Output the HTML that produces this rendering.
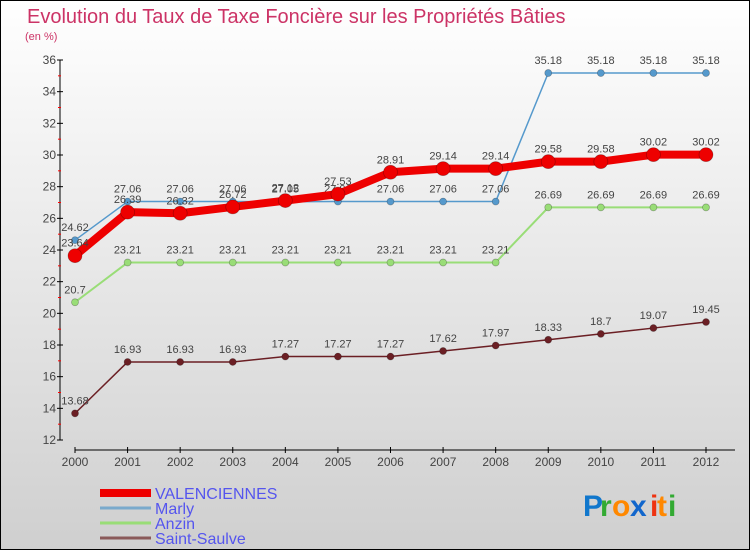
<!DOCTYPE html>
<html><head><meta charset="utf-8"><style>
body{margin:0}
#c{width:750px;height:550px;position:relative;background:linear-gradient(#ffffff,#cfcfcf);font-family:"Liberation Sans",sans-serif;overflow:hidden}
</style></head><body>
<div id="c">
<svg id="s" width="750" height="550" style="position:absolute;left:0;top:0"></svg>
</div>
<script>
const years=["2000","2001","2002","2003","2004","2005","2006","2007","2008","2009","2010","2011","2012"];
const valenciennes=[23.64,26.39,26.32,26.72,27.12,27.53,28.91,29.14,29.14,29.58,29.58,30.02,30.02];
const marly=[24.62,27.06,27.06,27.06,27.05,27.06,27.06,27.06,27.06,35.18,35.18,35.18,35.18];
const anzin=[20.7,23.21,23.21,23.21,23.21,23.21,23.21,23.21,23.21,26.69,26.69,26.69,26.69];
const saintSaulve=[13.68,16.93,16.93,16.93,17.27,17.27,17.27,17.62,17.97,18.33,18.7,19.07,19.45];
const yTicks=[12,14,16,18,20,22,24,26,28,30,32,34,36];
const NS="http://www.w3.org/2000/svg";
const svg=document.getElementById('s');
const x=i=>75+i*(706-75)/12;
const y=v=>440-(v-12)*(380/24);
function el(t,a,txt){const e=document.createElementNS(NS,t);for(const k in a)e.setAttribute(k,a[k]);if(txt!==undefined)e.textContent=txt;svg.appendChild(e);return e;}
let e;
e=el('rect',{x:0.5,y:0.5,width:749,height:549,fill:'none',stroke:'#000'});


e=el('text',{x:27,y:23,'font-size':20,fill:'#cc3366'},'Evolution du Taux de Taxe Foncière sur les Propriétés Bâties');


e=el('text',{x:25,y:40,'font-size':11,fill:'#cc3366'},'(en %)');


e=el('line',{x1:60,y1:60,x2:60,y2:440,stroke:'#000','stroke-width':1});


yTicks.forEach(v=>{
  e=el('line',{x1:57,y1:y(v),x2:63,y2:y(v),stroke:'#000'});
  
  
  if(v<36){e=el('line',{x1:58,y1:y(v+1),x2:61,y2:y(v+1),stroke:'#f00'});
  
  }
  e=el('text',{x:56,y:y(v)+4,'font-size':12,fill:'#444','text-anchor':'end'},String(v));
  
  
});
e=el('line',{x1:75,y1:450,x2:735,y2:450,stroke:'#000'});


years.forEach((yr,i)=>{
  e=el('line',{x1:x(i),y1:447,x2:x(i),y2:453,stroke:'#000'});
  
  
  e=el('text',{x:x(i),y:466,'font-size':12,fill:'#444','text-anchor':'middle'},yr);
  
  
});
function series(data,color,w,r,name){
  e=el('polyline',{points:data.map((v,i)=>x(i)+','+y(v)).join(' '),fill:'none',stroke:color,'stroke-width':w,'stroke-linejoin':'round'});
  
  
  data.forEach((v,i)=>{
    e=el('circle',{cx:x(i),cy:y(v),r:r,fill:color,stroke:'rgba(0,0,0,0.3)','stroke-width':0.7});
    
    
    e=el('text',{x:x(i),y:y(v)-9,'font-size':11,fill:'#444','text-anchor':'middle'},String(v));
    
    
  });
}
series(saintSaulve,'#6b1f24',1.5,3.5,'saint-saulve');
series(anzin,'#99dd77',2,3.5,'anzin');
series(marly,'#5599cc',1.5,3.5,'marly');
series(valenciennes,'#ee0000',8,7,'valenciennes');
const leg=[['VALENCIENNES','#ee0000',8,493],['Marly','#7aaacc',3,508],['Anzin','#99dd77',3,523],['Saint-Saulve','#8a5a5a',3,538]];
leg.forEach(l=>{
  e=el('line',{x1:100,y1:l[3],x2:151,y2:l[3],stroke:l[1],'stroke-width':l[2]});
  
  
  e=el('text',{x:155,y:l[3]+6,'font-size':16,fill:'#5555ee'},l[0]);
  
  
});
const logo=[['P','#1177cc'],['r','#33aa33'],['o','#ff8800'],['x','#1166cc'],['i','#ee3311'],['t','#ff8800'],['i','#33aa33']];
let lx=583;
const lw=[17,12,18,20,7,11,8];
logo.forEach((c,i)=>{
  e=el('text',{x:lx,y:516,'font-size':30,'font-weight':'bold',fill:c[1]},c[0]);
  
  
  lx+=lw[i];
});
</script>
</body></html>
